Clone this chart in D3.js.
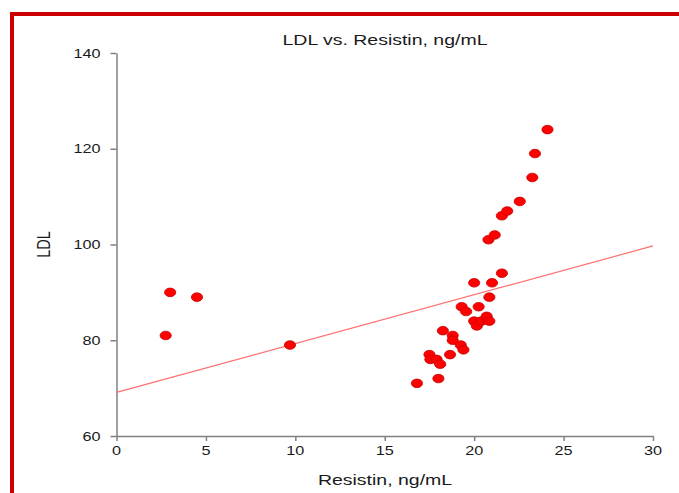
<!DOCTYPE html>
<html>
<head>
<meta charset="utf-8">
<script src="https://cdn.jsdelivr.net/npm/d3@7"></script>
<style>
  html, body { margin: 0; padding: 0; background: #fff; }
  svg { display: block; }
  text { font-family: "Liberation Sans", Arial, sans-serif; fill: #1a1a1a; }
</style>
</head>
<body>
<svg id="chart" width="679" height="493"></svg>
<script>
// ---- data ----
const resistin = [2.75, 3.0, 4.5, 9.7,
  16.8, 17.5, 17.55, 17.9, 18.0, 18.1, 18.25, 18.65, 18.8, 18.8, 19.25, 19.4,
  19.3, 19.55, 20.0, 20.0, 20.15, 20.25, 20.4, 20.7, 20.85, 20.85, 21.0, 21.55,
  20.8, 21.15, 21.55, 21.85, 22.55, 23.25, 23.4, 24.1];
const ldl = [81, 90, 89, 79,
  71, 77, 76, 76, 72, 75, 82, 77, 81, 80, 79, 78,
  87, 86, 92, 84, 83, 87, 84, 85, 84, 89, 92, 94,
  101, 102, 106, 107, 109, 114, 119, 124];
const fitX = [0, 30];
const fitY = [69.1, 99.7];
const xTicks = [0, 5, 10, 15, 20, 25, 30];
const yTicks = [60, 80, 100, 120, 140];
const title = "LDL vs. Resistin, ng/mL";
const xTitle = "Resistin, ng/mL";
const yTitle = "LDL";

// ---- layout ----
const SX = 1.3; // horizontal stretch of the reference's text
const plotL = 116.5, plotR = 653, plotT = 53, plotB = 436;
const svg = d3.select("#chart");

// red frame
svg.append("line").attr("x1", 10).attr("x2", 679).attr("y1", 14).attr("y2", 14)
  .attr("stroke", "#cc0000").attr("stroke-width", 4);
svg.append("line").attr("x1", 12).attr("x2", 12).attr("y1", 12).attr("y2", 493)
  .attr("stroke", "#cc0000").attr("stroke-width", 4);

const x = d3.scaleLinear().domain([0, 30]).range([plotL, plotR]);
const y = d3.scaleLinear().domain([60, 140]).range([plotB, plotT]);

function stretchedText(g, tx, ty, str, size, anchor, rot) {
  const t = g.append("g").attr("transform",
    `translate(${tx},${ty}) scale(${SX},1)` + (rot ? ` rotate(${rot})` : ""));
  return t.append("text").attr("text-anchor", anchor || "middle")
    .attr("font-size", size).text(str);
}

// axes
const axisColor = "#808080";
const gx = svg.append("g").attr("transform", `translate(0,${plotB})`)
  .call(d3.axisBottom(x).tickValues(xTicks).tickSize(5).tickSizeOuter(0).tickFormat(""));
const gy = svg.append("g").attr("transform", `translate(${plotL},0)`)
  .call(d3.axisLeft(y).tickValues(yTicks).tickSize(6).tickSizeOuter(0).tickFormat(""));
[gx, gy].forEach(g => {
  g.select(".domain").attr("stroke", axisColor).attr("stroke-width", 1.5);
  g.selectAll(".tick line").attr("stroke", axisColor).attr("stroke-width", 1.5);
});

// tick labels (stretched like the reference)
const labels = svg.append("g");
xTicks.forEach(v => stretchedText(labels, x(v), plotB + 19, d3.format("d")(v), 12.5, "middle"));
yTicks.forEach(v => stretchedText(labels, plotL - 16, y(v) + 4.5, d3.format("d")(v), 12.5, "end"));

// titles
stretchedText(svg, 385, 45, title, 15, "middle");
stretchedText(svg, 385, 485, xTitle, 15, "middle");
stretchedText(svg, 50, y(100), yTitle, 14.5, "middle", -90);

// regression line
svg.append("line")
  .attr("x1", x(fitX[0])).attr("y1", y(fitY[0]))
  .attr("x2", x(fitX[1])).attr("y2", y(fitY[1]))
  .attr("stroke", "#ff7070").attr("stroke-width", 1.2);

// points
const pts = resistin.map((d, i) => ({ x: d, y: ldl[i] }));
svg.append("g").selectAll("ellipse").data(pts).join("ellipse")
  .attr("cx", d => x(d.x)).attr("cy", d => y(d.y))
  .attr("rx", 5.6).attr("ry", 4.3)
  .attr("fill", "#ff0000").attr("stroke", "#c40000").attr("stroke-width", 0.8);
</script>
</body>
</html>
